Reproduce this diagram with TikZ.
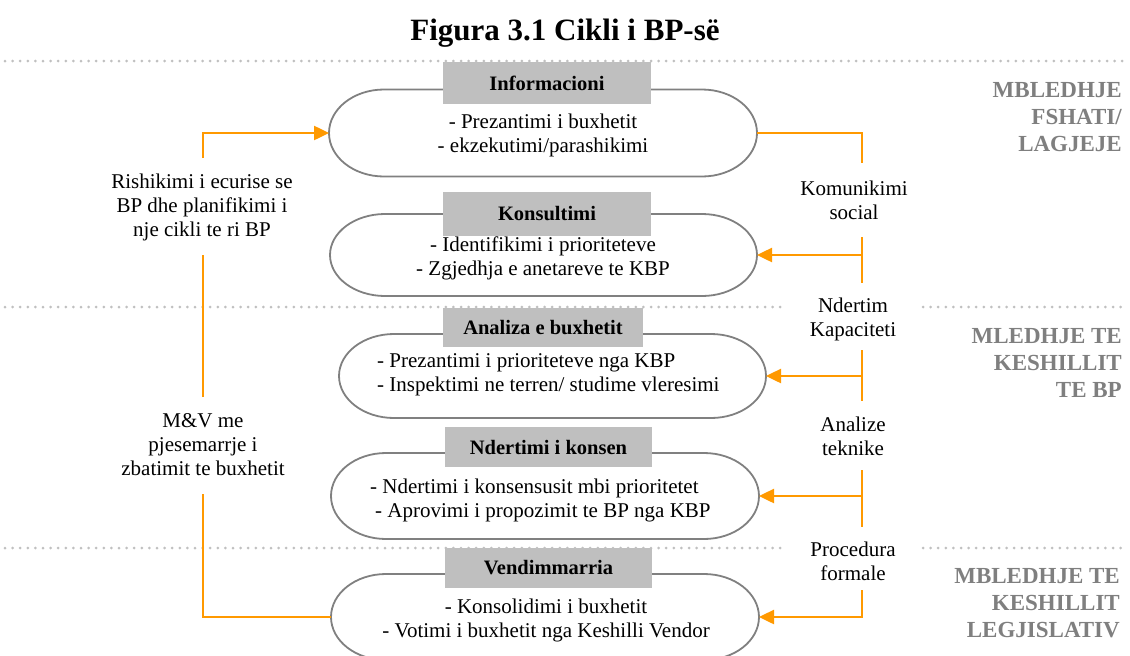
\documentclass[tikz,border=0pt]{standalone}
\usepackage{fontspec}
\setmainfont{Liberation Serif}
\usetikzlibrary{arrows.meta}
\definecolor{myorange}{RGB}{255,153,0}
\definecolor{outl}{RGB}{128,128,128}
\definecolor{boxgray}{RGB}{191,191,191}
\definecolor{dotgray}{RGB}{192,192,192}
\definecolor{sidegray}{RGB}{127,127,127}
\newcommand\mystadium[5]{% name, xleft, xright, ycenter, halfheight
  \draw[stad] (#2+55,#4+#5) -- (#3-55,#4+#5)
     arc[start angle=90,end angle=-90,x radius=55pt,y radius=#5 pt]
     -- (#2+55,#4-#5)
     arc[start angle=270,end angle=90,x radius=55pt,y radius=#5 pt] -- cycle;
  \coordinate (#1L) at (#2,#4);
  \coordinate (#1R) at (#3,#4);}
\tikzset{
  stad/.style={draw=outl,line width=1.8pt,fill=white},
  lbl/.style={fill=boxgray,inner sep=0pt,font=\fontsize{20.5}{24}\selectfont\bfseries},
  body/.style={inner sep=0pt,font=\fontsize{21}{24}\selectfont},
  side/.style={inner sep=0pt,align=right,anchor=east,text=sidegray,font=\fontsize{23}{27}\selectfont\bfseries},
  mid/.style={inner sep=0pt,align=center,font=\fontsize{21}{24}\selectfont},
  dotline/.style={draw=dotgray,line width=3pt,line cap=round,dash pattern=on 0pt off 7.6pt},
  oline/.style={draw=myorange,line width=2.5pt},
  arr/.style={oline,-{Triangle[length=15pt,width=14pt]}}
}
\begin{document}
\begin{tikzpicture}[x=1pt,y=1pt]
\useasboundingbox (0,0) rectangle (1130,-656);
% title
\node[inner sep=0pt,font=\fontsize{31}{35}\selectfont\bfseries] (title) at (565,-33) {Figura 3.1 Cikli i BP-së};
% dotted separators
\coordinate (d1a) at (5,-61); \coordinate (d1b) at (1125,-61);
\coordinate (d2a) at (5,-307); \coordinate (d2b) at (781,-307);
\coordinate (d2c) at (923,-307); \coordinate (d2d) at (1125,-307);
\coordinate (d3a) at (5,-548); \coordinate (d3b) at (781,-548);
\coordinate (d3c) at (923,-548); \coordinate (d3d) at (1125,-548);
\draw[dotline] (d1a) -- (d1b);
\draw[dotline] (d2a) -- (d2b);
\draw[dotline] (d2c) -- (d2d);
\draw[dotline] (d3a) -- (d3b);
\draw[dotline] (d3c) -- (d3d);
% stadium shapes
\mystadium{info}{329}{757}{-133}{43.5}
\mystadium{kons}{330}{757}{-255}{41}
\mystadium{anal}{339}{766}{-376}{42}
\mystadium{nd}{331}{759}{-496}{43}
\mystadium{vend}{331}{759}{-617}{43}
% grey title boxes
\node[lbl,minimum width=208pt,minimum height=42pt] (infoT) at (547,-83) {Informacioni};
\node[lbl,minimum width=208pt,minimum height=44pt] (konsT) at (547,-214) {Konsultimi};
\node[lbl,minimum width=200pt,minimum height=39pt] (analT) at (543,-327.5) {Analiza e buxhetit};
\node[lbl,minimum width=207pt,minimum height=40pt] (ndT) at (548.5,-447) {Ndertimi i konsen};
\node[lbl,minimum width=207pt,minimum height=40pt] (vendT) at (548.5,-568) {Vendimmarria};
% body texts
\node[body,align=center] (infoB) at (543,-135) {- Prezantimi i buxhetit\\- ekzekutimi/parashikimi};
\node[body,align=center] (konsB) at (543,-258) {- Identifikimi i prioriteteve\\- Zgjedhja e anetareve te KBP};
\node[body,align=left,anchor=west] (analB) at (377,-375) {- Prezantimi i prioriteteve nga KBP\\- Inspektimi ne terren/ studime vleresimi};
\node[body,align=left,anchor=west] (ndB) at (370,-500) {- Ndertimi i konsensusit mbi prioritetet\\\hspace{5pt}- Aprovimi i propozimit te BP nga KBP};
\node[body,align=center] (vendB) at (546,-620) {- Konsolidimi i buxhetit\\- Votimi i buxhetit nga Keshilli Vendor};
% middle labels
\node[mid] (m1) at (854,-200) {Komunikimi\\social};
\node[mid] (m2) at (853,-319) {Ndertim\\Kapaciteti};
\node[mid] (m3) at (853,-436) {Analize\\teknike};
\node[mid] (m4) at (853,-561) {Procedura\\formale};
% left labels
\node[mid] (l1) at (202,-207) {Rishikimi i ecurise se\\BP dhe planifikimi i\\nje cikli te ri BP};
\node[mid] (l2) at (203,-445) {M\&V me\\pjesemarrje i\\zbatimit te buxhetit};
% side labels
\node[side] (s1) at (1122,-117) {MBLEDHJE\\FSHATI/\\LAGJEJE};
\node[side] (s2) at (1122,-363) {MLEDHJE TE\\KESHILLIT\\TE BP};
\node[side] (s3) at (1120,-603) {MBLEDHJE TE\\KESHILLIT\\LEGJISLATIV};
% right orange connectors
\coordinate (r1) at (862,-133); \coordinate (r1e) at (862,-163);
\draw[oline] (infoR) -- (r1) -- (r1e);
\coordinate (r2a) at (862,-237); \coordinate (r2b) at (862,-283); \coordinate (r2j) at (862,-255);
\draw[oline] (r2a) -- (r2b);
\draw[arr] (r2j) -- (konsR);
\coordinate (r3a) at (862,-350); \coordinate (r3b) at (862,-401); \coordinate (r3j) at (862,-376);
\draw[oline] (r3a) -- (r3b);
\draw[arr] (r3j) -- (analR);
\coordinate (r4a) at (862,-470); \coordinate (r4b) at (862,-527); \coordinate (r4j) at (862,-496);
\draw[oline] (r4a) -- (r4b);
\draw[arr] (r4j) -- (ndR);
\coordinate (r5a) at (862,-590); \coordinate (r5j) at (862,-617);
\draw[arr] (r5a) -- (r5j) -- (vendR);
% left orange connectors
\coordinate (lc1) at (203,-617); \coordinate (lc1e) at (203,-494);
\draw[oline] (vendL) -- (lc1) -- (lc1e);
\coordinate (lc2a) at (203,-397); \coordinate (lc2b) at (203,-255);
\draw[oline] (lc2a) -- (lc2b);
\coordinate (lc3a) at (203,-158); \coordinate (lc3) at (203,-133);
\draw[arr] (lc3a) -- (lc3) -- (infoL);
\end{tikzpicture}
\end{document}
